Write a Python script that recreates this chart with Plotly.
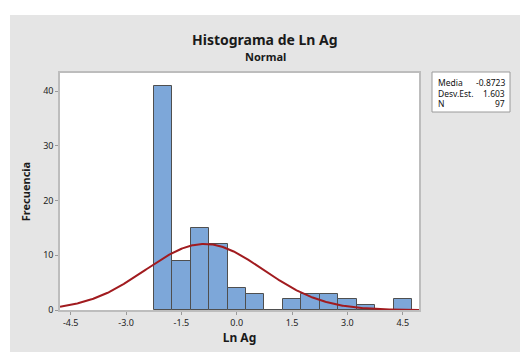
import numpy as np
import plotly.graph_objects as go

# Data
bin_centers = [-2.0, -1.5, -1.0, -0.5, 0.0, 0.5, 1.0, 1.5, 2.0, 2.5, 3.0, 3.5, 4.0, 4.5]
counts = [41, 9, 15, 12, 4, 3, 0, 2, 3, 3, 2, 1, 0, 2]
bin_width = 0.5
media = -0.8723
desv_est = 1.603
n_obs = 97
x_tick_vals = [-4.5, -3.0, -1.5, 0.0, 1.5, 3.0, 4.5]
x_tick_text = ["-4.5", "-3.0", "-1.5", "0.0", "1.5", "3.0", "4.5"]
y_tick_vals = [0, 10, 20, 30, 40]

x_range = [-4.79, 4.94]
y_range = [0, 43.3]

# Fitted normal curve (from stated mean / std dev)
xc = np.linspace(x_range[0], x_range[1], 400)
yc = n_obs * bin_width * np.exp(-0.5 * ((xc - media) / desv_est) ** 2) / (desv_est * np.sqrt(2 * np.pi))

W, H = 520, 352
L, R, T, B = 60, 101, 73, 42
pw, ph = W - L - R, H - T - B

def px(x):
    return (x - L) / pw

def py(y):
    return (H - B - y) / ph

FONT = "Noto Sans"
GRAY_BG = "#E5E5E5"

fig = go.Figure()
fig.add_trace(go.Bar(
    x=bin_centers, y=counts, width=bin_width,
    marker=dict(color="#7DA7D9", line=dict(color="#4F4F4F", width=1)),
    showlegend=False, hoverinfo="x+y",
))
fig.add_trace(go.Scatter(
    x=xc, y=yc, mode="lines",
    line=dict(color="#A11B1F", width=2),
    showlegend=False, hoverinfo="skip",
))

shapes = [
    dict(type="rect", xref="paper", yref="paper", x0=px(-5), x1=px(W + 5), y0=py(15), y1=py(-5),
         fillcolor="white", line=dict(width=0), layer="below"),
    dict(type="rect", xref="paper", yref="paper", x0=px(-5), x1=px(10), y0=py(H + 5), y1=py(-5),
         fillcolor="white", line=dict(width=0), layer="below"),
    dict(type="rect", xref="paper", yref="paper", x0=px(432), x1=px(510), y0=py(112), y1=py(72),
         fillcolor="white", line=dict(color="#9A9A9A", width=1)),
]

annotations = [
    dict(text="<b>Histograma de Ln Ag</b>", x=px(265), y=py(40), xref="paper", yref="paper",
         showarrow=False, font=dict(family=FONT, size=14, color="#1A1A1A"), xanchor="center", yanchor="middle"),
    dict(text="<b>Normal</b>", x=px(265), y=py(57), xref="paper", yref="paper",
         showarrow=False, font=dict(family=FONT, size=11, color="#1A1A1A"), xanchor="center", yanchor="middle"),
]
stats = [("Media", f"{media:.4f}", 82), ("Desv.Est.", f"{desv_est:.3f}", 93), ("N", f"{n_obs}", 103)]
for lab, val, yy in stats:
    annotations.append(dict(text=lab, x=px(436), y=py(yy), xref="paper", yref="paper", showarrow=False,
                            font=dict(family=FONT, size=8.5, color="#111"), xanchor="left", yanchor="middle"))
    annotations.append(dict(text=val, x=px(507), y=py(yy), xref="paper", yref="paper", showarrow=False,
                            font=dict(family=FONT, size=8.5, color="#111"), xanchor="right", yanchor="middle"))

fig.update_layout(
    width=W, height=H,
    margin=dict(l=L, r=R, t=T, b=B, pad=0, autoexpand=False),
    paper_bgcolor=GRAY_BG, plot_bgcolor="white",
    bargap=0,
    shapes=shapes, annotations=annotations,
    font=dict(family=FONT, color="#222"),
    xaxis=dict(range=x_range, tickvals=x_tick_vals, ticktext=x_tick_text, showgrid=False, zeroline=False,
               automargin=False,
               showline=True, linecolor="#BDBDBD", linewidth=1.5, mirror=True,
               ticks="outside", ticklen=3, tickcolor="#9A9A9A", tickfont=dict(size=9, color="#222"),
               title=dict(text="<b>Ln Ag</b>", font=dict(size=12, color="#1A1A1A"), standoff=6)),
    yaxis=dict(range=y_range, tickvals=y_tick_vals, showgrid=False, zeroline=False,
               automargin=False,
               showline=True, linecolor="#BDBDBD", linewidth=1.5, mirror=True,
               ticks="outside", ticklen=3, tickcolor="#9A9A9A", tickfont=dict(size=9, color="#222"),
               title=dict(text="<b>Frecuencia</b>", font=dict(size=11, color="#1A1A1A"), standoff=10)),
)

fig.write_html("out.html")
